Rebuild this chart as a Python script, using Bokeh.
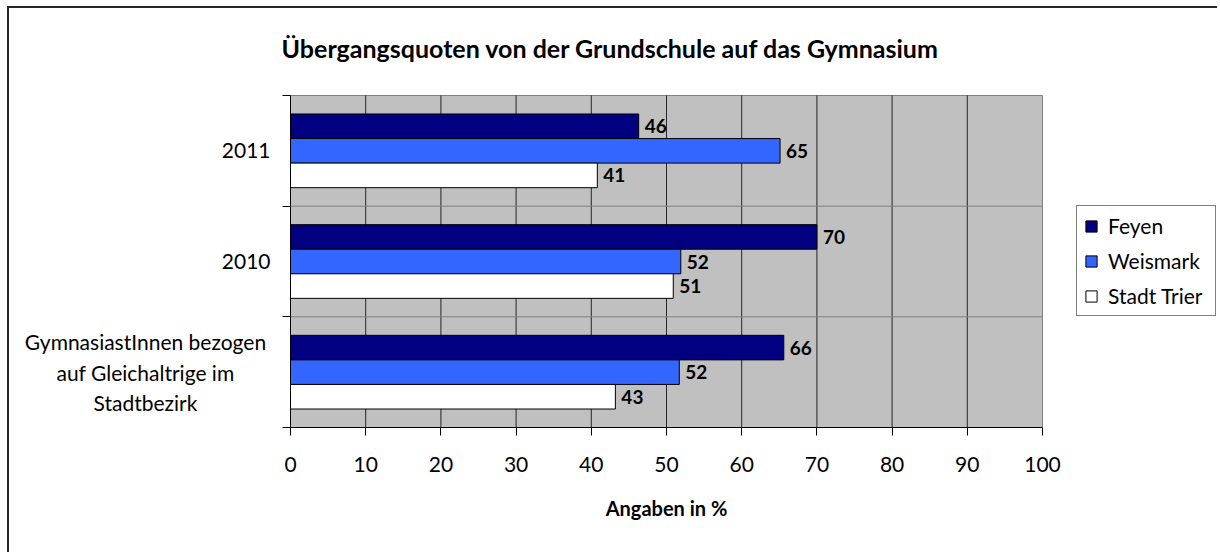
from bokeh.plotting import figure
from bokeh.models import Range1d, FixedTicker, Legend, LegendItem, Label, ColumnDataSource
from bokeh.core.properties import value
from bokeh.embed import file_html
from bokeh.resources import INLINE

# ---- data (categories listed bottom to top) ----
categories = ["GymnasiastInnen bezogen\nauf Gleichaltrige im\nStadtbezirk", "2010", "2011"]
series_names = ["Feyen", "Weismark", "Stadt Trier"]
feyen = [65.6, 70.0, 46.3]
weismark = [51.7, 51.9, 65.1]
stadt_trier = [43.2, 50.9, 40.8]
x_ticks = [0, 10, 20, 30, 40, 50, 60, 70, 80, 90, 100]
title_text = "Übergangsquoten von der Grundschule auf das Gymnasium"
x_title = "Angaben in %"

colors = ["#000080", "#3366FF", "#FFFFFF"]
FONT = "Lato"

# ---- layout: the frame fills the whole canvas; the plot area is placed through the ranges ----
W, H = 1210, 546
PA_LEFT, PA_RIGHT, PA_TOP, PA_BOTTOM = 281, 1033, 87, 419   # plot area in canvas pixels
n_cat = len(categories)
x_lo, x_hi = x_ticks[0], x_ticks[-1]
xs = (x_hi - x_lo) / (PA_RIGHT - PA_LEFT)
ys = n_cat / (PA_BOTTOM - PA_TOP)
x_range = Range1d(x_lo - PA_LEFT * xs, x_hi + (W - PA_RIGHT) * xs)
y_range = Range1d(-(H - PA_BOTTOM) * ys, n_cat + PA_TOP * ys)

p = figure(width=W, height=H, output_backend="svg", toolbar_location=None,
           x_range=x_range, y_range=y_range,
           min_border_left=0, min_border_right=0, min_border_top=0, min_border_bottom=0)
p.styles = {"margin-left": "7px", "margin-top": "6px",
            "border-left": "2px solid #262626", "border-top": "2px solid #262626"}
p.background_fill_color = "#FFFFFF"
p.border_fill_color = "#FFFFFF"
p.outline_line_color = None
p.xgrid.visible = False
p.ygrid.visible = False

# plot area background
p.quad(left=[x_lo], right=[x_hi], bottom=[0], top=[n_cat],
       fill_color="#C0C0C0", line_color="#808080", line_width=1)

# grid lines
inner_x = x_ticks[1:-1]
p.segment(x0=inner_x, x1=inner_x, y0=[0] * len(inner_x), y1=[n_cat] * len(inner_x),
          line_color="#262626", line_width=1)
inner_y = list(range(1, n_cat))
p.segment(x0=[x_lo] * len(inner_y), x1=[x_hi] * len(inner_y), y0=inner_y, y1=inner_y,
          line_color="#808080", line_width=1)

# x axis, fixed at y = 0
xa = p.xaxis[0]
xa.fixed_location = 0
xa.bounds = (x_lo, x_hi)
xa.ticker = FixedTicker(ticks=x_ticks)
xa.major_tick_in = 0
xa.major_tick_out = 8
xa.minor_tick_line_color = None
xa.axis_line_color = "#000000"
xa.major_tick_line_color = "#000000"
xa.major_label_text_font = FONT
xa.major_label_text_font_size = "21px"
xa.major_label_text_color = "#000000"
xa.major_label_standoff = 21
xa.axis_label = x_title
xa.axis_label_text_font = FONT
xa.axis_label_text_font_style = "bold"
xa.axis_label_text_font_size = "20px"
xa.axis_label_text_color = "#000000"
xa.axis_label_standoff = 21

# y axis, fixed at x = 0 (ticks at band boundaries)
ya = p.yaxis[0]
ya.fixed_location = 0
ya.bounds = (0, n_cat)
ya.ticker = FixedTicker(ticks=list(range(n_cat + 1)))
ya.major_tick_in = 0
ya.major_tick_out = 8
ya.minor_tick_line_color = None
ya.axis_line_color = "#000000"
ya.major_tick_line_color = "#000000"
ya.major_label_text_font_size = "0px"
ya.major_label_text_color = None

# bars
bar_h = 0.222
offsets = [bar_h, 0.0, -bar_h]
items = []
for name, vals, col, off in zip(series_names, [feyen, weismark, stadt_trier], colors, offsets):
    src = ColumnDataSource(dict(
        y=[i + 0.5 + off for i in range(n_cat)],
        v=vals,
        lbl=[str(int(round(v))) for v in vals],
    ))
    r = p.hbar(y="y", right="v", left=0, height=bar_h, source=src,
               fill_color=col, line_color="#000000", line_width=1)
    p.text(x="v", y="y", text="lbl", source=src, x_offset=6, text_baseline="middle",
           text_align="left", text_font=value(FONT), text_font_style="bold",
           text_font_size="19px", text_color="#000000")
    items.append(LegendItem(label=name, renderers=[r]))

legend = Legend(items=items, location=(1067, H - 308),
                label_text_font=FONT, label_text_font_size="21px", label_text_color="#000000",
                glyph_width=14, glyph_height=14, label_standoff=10, label_height=25, label_width=100,
                spacing=10, padding=7, margin=0,
                border_line_color="#000000", border_line_width=1,
                background_fill_color="#FFFFFF", background_fill_alpha=1.0)
p.add_layout(legend)

# category labels
for i, cat in enumerate(categories):
    if "\n" in cat:
        lab = Label(x=0, y=i + 0.5, x_offset=-145, text=cat, text_align="center",
                    text_baseline="middle", text_line_height=1.23,
                    text_font=FONT, text_font_size="21px", text_color="#000000")
    else:
        lab = Label(x=0, y=i + 0.5, x_offset=-20, text=cat, text_align="right",
                    text_baseline="middle",
                    text_font=FONT, text_font_size="21px", text_color="#000000")
    p.add_layout(lab)

# chart title
p.add_layout(Label(x=(x_lo + x_hi) / 2, y=n_cat, x_offset=-56, y_offset=48, text=title_text,
                   text_align="center", text_baseline="middle", text_font=FONT,
                   text_font_style="bold", text_font_size="25px", text_color="#000000"))

open("out.html", "w").write(file_html(p, INLINE))
